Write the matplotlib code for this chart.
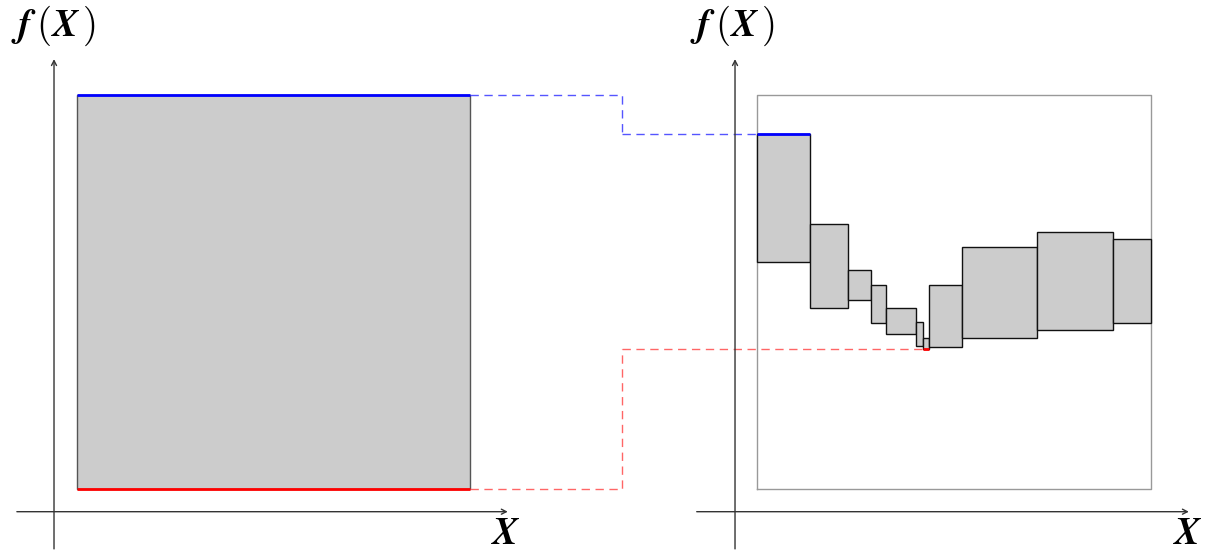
import matplotlib
matplotlib.use("Agg")
import matplotlib.pyplot as plt
import numpy as np

plt.rcParams['mathtext.fontset'] = 'cm'

# left panel: one box over the whole domain
left_edges = [0.0, 1.0]
left_lower = [0.0]
left_upper = [1.0]

# right panel: boxes after splitting the domain
right_edges = [0.0, 0.135, 0.232, 0.289, 0.327, 0.404, 0.422, 0.437, 0.520, 0.711, 0.903, 1.0]
right_lower = [0.575, 0.460, 0.480, 0.422, 0.393, 0.364, 0.355, 0.360, 0.384, 0.403, 0.421]
right_upper = [0.902, 0.672, 0.557, 0.519, 0.460, 0.423, 0.384, 0.519, 0.614, 0.652, 0.634]

label_y = r'$\mathbfit{f}\,(\mathbfit{X}\,)$'
label_x = r'$\mathbfit{X}$'

W, H = 1216, 555
fig = plt.figure(figsize=(W / 100, H / 100), dpi=100)
ax_l = fig.add_axes([77 / W, 66 / H, 393 / W, 394 / H])
ax_r = fig.add_axes([757 / W, 66 / H, 394 / W, 394 / H])


def draw_boxes(ax, edges, lower, upper, edge_color):
    edges = np.array(edges)
    lower = np.array(lower)
    upper = np.array(upper)
    bars = ax.bar(edges[:-1], upper - lower, width=np.diff(edges), bottom=lower, align='edge',
                  color='#cccccc', edgecolor=edge_color, linewidth=1.0, zorder=2)
    for b in bars:
        b.set_clip_on(False)
    i_hi = int(np.argmax(upper))
    i_lo = int(np.argmin(lower))
    ax.plot([edges[i_hi], edges[i_hi + 1]], [upper[i_hi]] * 2, color='#0000ff', lw=2, zorder=3,
            solid_capstyle='butt', clip_on=False)
    ax.plot([edges[i_lo], edges[i_lo + 1]], [lower[i_lo]] * 2, color='#ff0000', lw=2, zorder=3,
            solid_capstyle='butt', clip_on=False)
    return upper[i_hi], lower[i_lo], edges[i_lo]


def draw_axes(ax, x0, y0, xl, yl):
    arrow = dict(arrowstyle='->,head_length=0.35,head_width=0.18', lw=1.0, color='#333333',
                 shrinkA=0, shrinkB=0)
    ax.annotate('', xy=(1.096, y0), xytext=(xl, y0), arrowprops=arrow, annotation_clip=False)
    ax.annotate('', xy=(x0, 1.091), xytext=(x0, yl), arrowprops=arrow, annotation_clip=False)


for ax in (ax_l, ax_r):
    ax.set_xlim(0, 1)
    ax.set_ylim(0, 1)
    ax.axis('off')

draw_boxes(ax_l, left_edges, left_lower, left_upper, '#555555')
hi, lo, lo_x = draw_boxes(ax_r, right_edges, right_lower, right_upper, '#111111')

# frame of the domain on the right
ax_r.plot([0, 1, 1, 0, 0], [0, 0, 1, 1, 0], color='#999999', lw=1, zorder=1, clip_on=False)

draw_axes(ax_l, -0.0585, -0.0576, -0.153, -0.152)
draw_axes(ax_r, -0.0558, -0.0576, -0.153, -0.152)

# dashed connectors between the panels
mid_l = (622 - 77) / 393
mid_r = (622 - 757) / 394
ax_l.plot([1, mid_l, mid_l], [left_upper[0], left_upper[0], hi], color='#5555ff', lw=1,
          dashes=(6, 4), clip_on=False)
ax_r.plot([mid_r, 0], [hi, hi], color='#5555ff', lw=1, dashes=(6, 4), clip_on=False)
ax_l.plot([1, mid_l, mid_l], [left_lower[0], left_lower[0], lo], color='#ff6666', lw=1,
          dashes=(6, 4), clip_on=False)
ax_r.plot([mid_r, lo_x], [lo, lo], color='#ff6666', lw=1, dashes=(6, 4), clip_on=False)

ax_l.text(-0.0585, 1.175, label_y, fontsize=28, ha='center', va='center')
ax_r.text(-0.063, 1.175, label_y, fontsize=28, ha='center', va='center')
ax_l.text(1.092, -0.112, label_x, fontsize=28, ha='center', va='center')
ax_r.text(1.094, -0.112, label_x, fontsize=28, ha='center', va='center')

fig.savefig('out.png', dpi=100)
